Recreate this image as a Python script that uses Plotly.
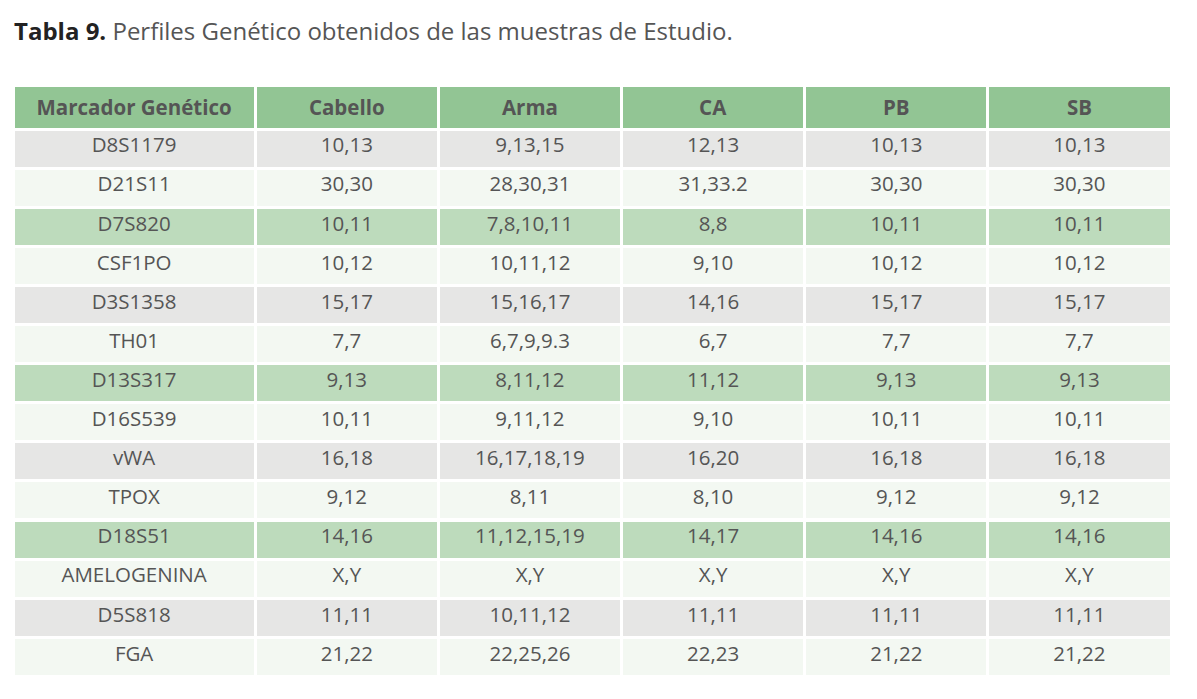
import plotly.graph_objects as go

headers = ["Marcador Genético", "Cabello", "Arma", "CA", "PB", "SB"]

marcadores = ["D8S1179", "D21S11", "D7S820", "CSF1PO", "D3S1358", "TH01", "D13S317",
              "D16S539", "vWA", "TPOX", "D18S51", "AMELOGENINA", "D5S818", "FGA"]
cabello = ["10,13", "30,30", "10,11", "10,12", "15,17", "7,7", "9,13",
           "10,11", "16,18", "9,12", "14,16", "X,Y", "11,11", "21,22"]
arma = ["9,13,15", "28,30,31", "7,8,10,11", "10,11,12", "15,16,17", "6,7,9,9.3", "8,11,12",
        "9,11,12", "16,17,18,19", "8,11", "11,12,15,19", "X,Y", "10,11,12", "22,25,26"]
ca = ["12,13", "31,33.2", "8,8", "9,10", "14,16", "6,7", "11,12",
      "9,10", "16,20", "8,10", "14,17", "X,Y", "11,11", "22,23"]
pb = ["10,13", "30,30", "10,11", "10,12", "15,17", "7,7", "9,13",
      "10,11", "16,18", "9,12", "14,16", "X,Y", "11,11", "21,22"]
sb = ["10,13", "30,30", "10,11", "10,12", "15,17", "7,7", "9,13",
      "10,11", "16,18", "9,12", "14,16", "X,Y", "11,11", "21,22"]

# row shading pattern
GRAY, LIGHT, GREEN = "#e6e6e5", "#f3f8f2", "#bddbbc"
row_fill = [GRAY, LIGHT, GREEN, LIGHT, GRAY, LIGHT, GREEN,
            LIGHT, GRAY, LIGHT, GREEN, LIGHT, GRAY, LIGHT]

W, H = 1197, 699
fig = go.Figure()

# the page adds a few px of body margin, so positions are nudged up/left
fig.add_trace(go.Table(
    domain=dict(x=[5 / W, 1164 / W], y=[0, 1 - 77 / H]),
    columnwidth=[242, 183, 183, 183, 183, 183],
    header=dict(
        values=["<b>%s</b>" % h for h in headers],
        fill_color="#92c594",
        line=dict(color="white", width=3),
        font=dict(family="Open Sans", size=20.5, color="#555555"),
        align="center",
        height=39,
    ),
    cells=dict(
        values=[marcadores, cabello, arma, ca, pb, sb],
        fill_color=[row_fill] * 6,
        line=dict(color="white", width=3),
        font=dict(family="Open Sans", size=20.5, color="#555555"),
        align="center",
        height=39.1,
    ),
))

fig.add_annotation(
    text="<b>Tabla 9.</b> <span style='color:#555555'>Perfiles Genético obtenidos de las muestras de Estudio.</span>",
    xref="paper", yref="paper", x=4 / W, y=1 - 22 / H,
    xanchor="left", yanchor="middle", showarrow=False,
    font=dict(family="Open Sans", size=24, color="#222222"),
)

fig.update_layout(
    width=W, height=H,
    margin=dict(l=0, r=0, t=0, b=0),
    paper_bgcolor="white",
    plot_bgcolor="white",
)

fig.write_html("out.html")
